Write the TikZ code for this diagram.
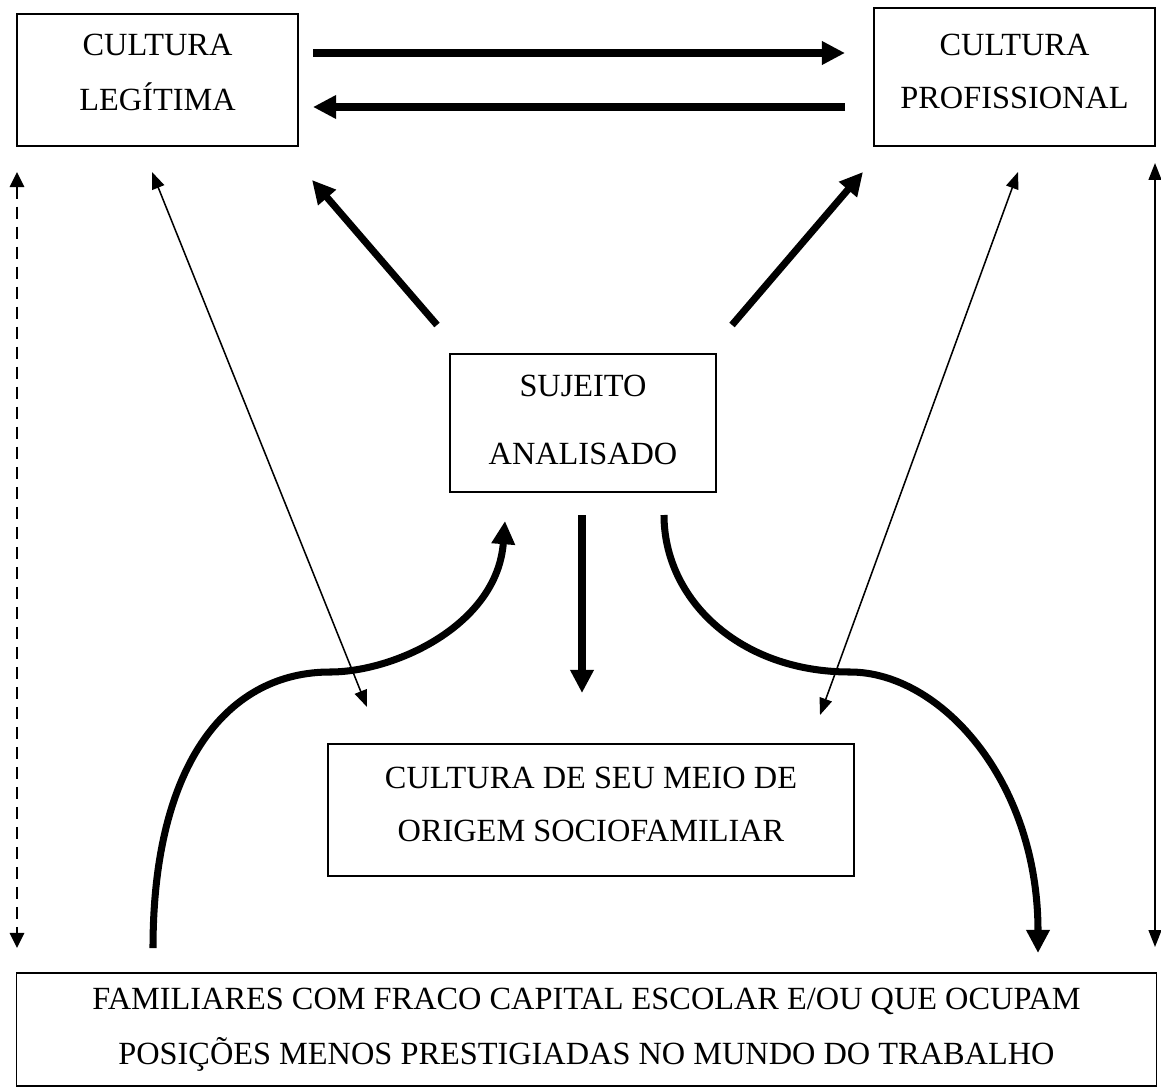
\documentclass[tikz,border=0pt]{standalone}
\usepackage{fontspec}
\setmainfont{Liberation Serif}
\usetikzlibrary{positioning,arrows.meta,calc}

\tikzset{
  caixa/.style={draw, line width=0.9pt, align=center, inner sep=0pt},
  seta/.style={line width=5pt, -{Triangle[length=0.58cm,width=0.56cm]}},
  setafina/.style={line width=1.1pt, {Triangle[length=0.42cm,width=0.32cm]}-{Triangle[length=0.42cm,width=0.32cm]}},
  setatracejada/.style={line width=1.5pt, dash pattern=on 0.3cm off 0.2cm, {Triangle[length=0.38cm,width=0.36cm]}-{Triangle[length=0.38cm,width=0.36cm]}}
}

\begin{document}
\begin{tikzpicture}[x=0.025cm, y=-0.025cm]
\useasboundingbox (0,0) rectangle (1161,1090);

% Boxes
\node[caixa, minimum width=7.025cm, minimum height=3.3cm, text depth=0.4cm,
  font=\fontsize{23}{39}\selectfont] (leg) at (157.5,80) {CULTURA\\LEGÍTIMA};
\node[caixa, minimum width=7.025cm, minimum height=3.45cm, text depth=0.3cm,
  font=\fontsize{23}{37.6}\selectfont] (prof) at (1014.5,77) {CULTURA\\PROFISSIONAL};
\node[caixa, minimum width=6.65cm, minimum height=3.45cm, text depth=0.15cm,
  font=\fontsize{23}{48.4}\selectfont] (suj) at (583,423) {SUJEITO\\ANALISADO};
\node[caixa, minimum width=13.15cm, minimum height=3.3cm, text depth=0.3cm,
  font=\fontsize{23}{38}\selectfont] (meio) at (591,810) {CULTURA DE SEU MEIO DE\\ORIGEM SOCIOFAMILIAR};
\node[caixa, minimum width=28.475cm, minimum height=2.825cm,
  font=\fontsize{23}{39}\selectfont] (fam) at (586.5,1029.5)
  {FAMILIARES COM FRACO CAPITAL ESCOLAR E/OU QUE OCUPAM\\POSIÇÕES MENOS PRESTIGIADAS NO MUNDO DO TRABALHO};

% Arrow ends
\coordinate (topA) at (313,53);
\coordinate (topB) at (845,53);
\coordinate (botA) at (845,107);
\coordinate (botB) at (313,107);
\coordinate (diagL1) at (437,325);
\coordinate (diagL2) at (312,180);
\coordinate (diagR1) at (732,325);
\coordinate (diagR2) at (863,172);
\coordinate (thinL1) at (152,172);
\coordinate (thinL2) at (367,707);
\coordinate (thinR1) at (1018,172);
\coordinate (thinR2) at (820,715);
\coordinate (dashT) at (17,172);
\coordinate (dashB) at (17,948);
\coordinate (vertT) at (1155,163);
\coordinate (vertB) at (1155,947);
\coordinate (downA) at (582,515);
\coordinate (downB) at (582,693);
\coordinate (curvL0) at (153,948);
\coordinate (curvL1) at (330,672);
\coordinate (curvL2) at (505,521);
\coordinate (curvR0) at (664,515);
\coordinate (curvR1) at (850,672);
\coordinate (curvR2) at (1038,953);

% Thick arrows
\draw[seta] (topA) -- (topB);
\draw[seta] (botA) -- (botB);
\draw[seta] (diagL1) -- (diagL2);
\draw[seta] (diagR1) -- (diagR2);
\draw[seta] (downA) -- (downB);

% Curves
\draw[seta] (curvL0) .. controls (153,760) and (230,672) .. (curvL1)
  .. controls (395,672) and (497,625) .. (curvL2);
\draw[seta] (curvR0) .. controls (664,600) and (740,672) .. (curvR1)
  .. controls (940,672) and (1038,780) .. (curvR2);

% Thin arrows
\draw[setafina] (thinL1) -- (thinL2);
\draw[setafina] (thinR1) -- (thinR2);
\draw[setafina] (vertT) -- (vertB);
\draw[setatracejada] (dashT) -- (dashB);

\end{tikzpicture}
\end{document}
